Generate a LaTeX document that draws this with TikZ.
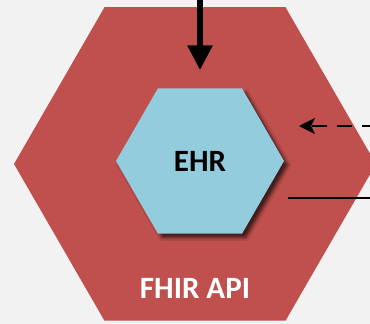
\documentclass[tikz,border=0pt]{standalone}
\usepackage{fontspec}
\setmainfont{Carlito}
\usetikzlibrary{positioning,shapes.geometric,arrows.meta,shadows.blur}
\definecolor{apired}{HTML}{C0504D}
\definecolor{ehrblue}{HTML}{93CDDD}
\definecolor{bggrey}{HTML}{F2F2F2}
\tikzstyle{hexa}=[regular polygon, regular polygon sides=6, inner sep=0pt, outer sep=0pt, font=\bfseries\fontsize{31}{31}\selectfont]
\tikzstyle{tag}=[inner sep=0pt, text=white, font=\bfseries\fontsize{31}{31}\selectfont]

\begin{document}
\begin{tikzpicture}[
        x=1pt, y=1pt,
        push/.style={line width=6.5pt, -{Triangle[width=24pt,length=25pt]}},
        request/.style={line width=2pt, dash pattern=on 15pt off 10pt, -{Stealth[width=16pt,length=16pt,inset=4pt]}},
        reply/.style={line width=2pt},
      ]
      \fill[bggrey] (0,0) rectangle (370,324);
      \useasboundingbox (0,0) rectangle (370,324);
      \clip (0,0) rectangle (370,324);
      \node (API) [hexa, fill=apired, minimum size=362pt] at (195,160) {};
      \node (EHR) [hexa, fill=ehrblue, minimum size=168pt,
            blur shadow={shadow xshift=4pt, shadow yshift=-4pt, shadow blur radius=3pt, shadow opacity=65}] at (200,163) {EHR};
      \node (APIlabel) [tag] at ([yshift=32pt]API.south) {FHIR API};
      \coordinate (Source) at (200,330);
      \coordinate (ReqStart) at (377,198);
      \coordinate (ReqEnd) at (299,198);
      \coordinate (RepStart) at (288,126);
      \coordinate (RepEnd) at (377,126);
      \draw [push] (Source) -- ([yshift=18pt]EHR.north);
      \draw [request] (ReqStart) -- (ReqEnd);
      \draw [reply] (RepStart) -- (RepEnd);
    \end{tikzpicture}
\end{document}
